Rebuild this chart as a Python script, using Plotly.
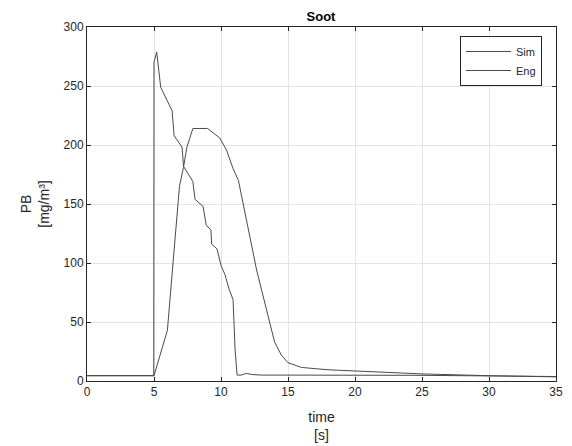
import plotly.graph_objects as go

# Sim series (sharp spike)
sim_t = [0, 2.5, 4.98, 5.0, 5.2, 5.5, 6.35, 6.5, 7.1, 7.2, 7.9, 8.06, 8.66, 8.9, 9.25, 9.3, 9.7, 10.0, 10.3,
         10.6, 10.9, 11.05, 11.2, 11.5, 11.9, 12.3, 13, 15, 20, 25, 30, 35]
sim_v = [4.5, 4.5, 4.5, 270, 279, 249, 229, 208, 198, 182, 169, 154, 148, 132, 128, 116, 112, 98, 90,
         78, 69, 27, 5, 5, 6.5, 5.5, 5, 5, 5, 4.8, 4.3, 3.8]

# Eng series (smooth hump)
eng_t = [0, 2.5, 5.0, 6.0, 6.9, 7.2, 7.45, 7.9, 9.0, 9.9, 10.4, 10.9, 11.3, 12.66, 14.0, 14.5, 15.0,
         16.0, 17.0, 18.0, 20.0, 21.0, 25, 30, 35]
eng_v = [4.5, 4.5, 4.5, 43, 165, 181, 198, 214, 214, 206, 196, 180, 170, 94, 33, 22, 15.5,
         11.5, 10.5, 9.5, 8.5, 8, 6, 4.5, 3.5]

x_ticks = [0, 5, 10, 15, 20, 25, 30, 35]
y_ticks = [0, 50, 100, 150, 200, 250, 300]

line_col = "#4a4a4a"
axis_col = "#262626"
grid_col = "#e3e3e3"

fig = go.Figure()
fig.add_trace(go.Scatter(x=sim_t, y=sim_v, mode="lines", name="Sim",
                         line=dict(color=line_col, width=1)))
fig.add_trace(go.Scatter(x=eng_t, y=eng_v, mode="lines", name="Eng",
                         line=dict(color=line_col, width=1)))

# page body has an 8px margin, so the figure is drawn offset by 8px
W, H = 564, 438
font_fam = "Liberation Sans, Arial, sans-serif"
fig.update_layout(
    width=W, height=H,
    margin=dict(l=79, r=16, t=19, b=65, autoexpand=False),
    paper_bgcolor="white", plot_bgcolor="white",
    font=dict(family=font_fam, size=12, color=axis_col),
    title=dict(text="<b>Soot</b>", x=313 / W, xanchor="center",
               y=1 - 8 / H, yanchor="middle", font=dict(size=13, color="black")),
    showlegend=True,
    legend=dict(x=(542 - 87) / (556 - 87), y=1 - (36 - 27) / (381 - 27), xanchor="right", yanchor="top",
                bgcolor="white", bordercolor=axis_col, borderwidth=1,
                font=dict(size=11), itemwidth=45, tracegroupgap=0),
    xaxis=dict(range=[0, 35], tickvals=x_ticks, showgrid=True, gridcolor=grid_col,
               showline=True, linecolor=axis_col, linewidth=1, mirror="ticks",
               ticks="inside", ticklen=4, tickcolor=axis_col, zeroline=False,
               automargin=False, title=dict(text="time<br>[s]", standoff=13)),
    yaxis=dict(range=[0, 300], tickvals=y_ticks, showgrid=True, gridcolor=grid_col,
               showline=True, linecolor=axis_col, linewidth=1, mirror="ticks",
               ticks="inside", ticklen=4, tickcolor=axis_col, zeroline=False,
               automargin=False, title=dict(text="PB<br>[mg/m³]", standoff=10)),
)

fig.write_html("out.html")
